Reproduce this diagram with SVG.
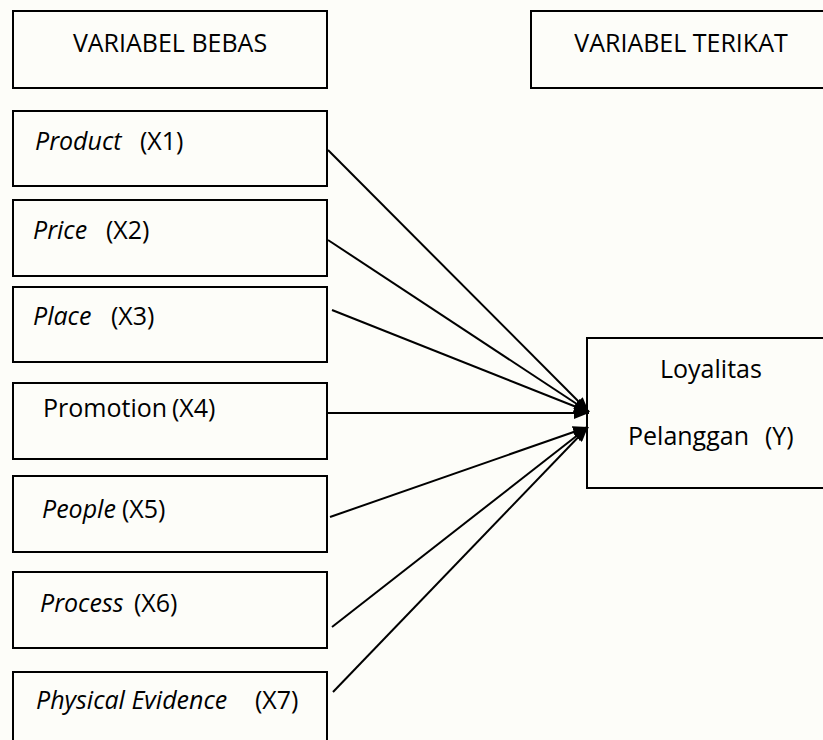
<svg xmlns="http://www.w3.org/2000/svg" width="823" height="740" viewBox="0 0 823 740">
<style>
.box{fill:none;stroke:#000;stroke-width:2}
.t{font-family:"Open Sans","Liberation Sans",sans-serif;font-size:25px;fill:#000}
.i{font-style:italic}
.c{stroke:#000;stroke-width:2;fill:none}
</style>
<defs>
<marker id="ah" markerUnits="userSpaceOnUse" markerWidth="16" markerHeight="12" refX="15" refY="6" orient="auto">
<path d="M0,0 L15,6 L0,12 z" fill="#000"/>
</marker>
</defs>
<rect width="823" height="740" fill="#fdfdf9"/>
<g id="bebas"><rect class="box" x="13" y="11" width="314" height="77"/><text class="t" x="170" y="52" text-anchor="middle">VARIABEL BEBAS</text></g>
<g id="terikat"><rect class="box" x="531" y="11" width="300" height="77"/><text class="t" x="681" y="52" text-anchor="middle">VARIABEL TERIKAT</text></g>
<g id="x1"><rect class="box" x="13" y="111" width="314" height="75"/><text class="t" y="150"><tspan class="i" x="35">Product</tspan><tspan x="140">(X1)</tspan></text></g>
<g id="x2"><rect class="box" x="13" y="200" width="314" height="76"/><text class="t" y="239"><tspan class="i" x="33">Price</tspan><tspan x="106">(X2)</tspan></text></g>
<g id="x3"><rect class="box" x="13" y="287" width="314" height="75"/><text class="t" y="325"><tspan class="i" x="33">Place</tspan><tspan x="111">(X3)</tspan></text></g>
<g id="x4"><rect class="box" x="13" y="383" width="314" height="76"/><text class="t" y="417"><tspan x="43">Promotion</tspan><tspan x="172">(X4)</tspan></text></g>
<g id="x5"><rect class="box" x="13" y="476" width="314" height="76"/><text class="t" y="518"><tspan class="i" x="42">People</tspan><tspan x="122">(X5)</tspan></text></g>
<g id="x6"><rect class="box" x="13" y="572" width="314" height="76"/><text class="t" y="612"><tspan class="i" x="40">Process</tspan><tspan x="134">(X6)</tspan></text></g>
<g id="x7"><rect class="box" x="13" y="672" width="314" height="90"/><text class="t" y="709"><tspan class="i" x="36">Physical Evidence</tspan><tspan x="255">(X7)</tspan></text></g>
<g id="y"><rect class="box" x="587" y="338" width="250" height="150"/><text class="t" y="378"><tspan x="660">Loyalitas</tspan></text><text class="t" y="445"><tspan x="628">Pelanggan</tspan><tspan x="765">(Y)</tspan></text></g>
<g id="connectors">
<line class="c" x1="328" y1="150" x2="589" y2="412" marker-end="url(#ah)"/>
<line class="c" x1="328" y1="240" x2="589" y2="412" marker-end="url(#ah)"/>
<line class="c" x1="332" y1="310" x2="589" y2="412" marker-end="url(#ah)"/>
<line class="c" x1="327" y1="413" x2="589" y2="413" marker-end="url(#ah)"/>
<line class="c" x1="330" y1="517" x2="588" y2="427" marker-end="url(#ah)"/>
<line class="c" x1="332" y1="627" x2="588" y2="427" marker-end="url(#ah)"/>
<line class="c" x1="333" y1="692" x2="588" y2="427" marker-end="url(#ah)"/>
</g>
</svg>
